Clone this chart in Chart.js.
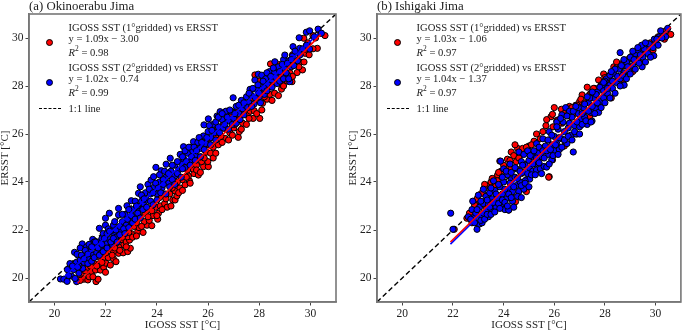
<!DOCTYPE html>
<html>
<head>
<meta charset="utf-8">
<script src="https://cdn.jsdelivr.net/npm/chart.js@4"></script>
<style>
  html, body { margin: 0; padding: 0; background: #fff; }
  #page { position: relative; width: 685px; height: 331px; overflow: hidden; font-family: "Liberation Serif", serif; color: #222; }
  canvas { position: absolute; top: 0; }
  .lg { position: absolute; font-size: 10.6px; line-height: 12px; white-space: nowrap; }
  .lg sup { font-size: 7.5px; line-height: 0; }
  .dot { position: absolute; width: 5px; height: 5px; border: 1px solid #000; border-radius: 50%; }
  .dash { position: absolute; width: 22px; height: 0; border-top: 1.4px dashed #000; }
</style>
</head>
<body>
<div id="page">
  <canvas id="left" width="345" height="331" style="left:0;width:345px;height:331px"></canvas>
  <canvas id="right" width="337" height="331" style="left:348px;width:337px;height:331px"></canvas>
</div>
<script>
const axisTicks = [20, 22, 24, 26, 28, 30];
const oneToOneX = [19, 31];
const oneToOneY = [19, 31];

const titles = ['(a) Okinoerabu Jima', '(b) Ishigaki Jima'];
const xTitle = 'IGOSS SST [°C]';
const yTitle = 'ERSST [°C]';

const okiLegend1 = ['y = 1.09x − 3.00', '0.98'];
const okiLegend2 = ['y = 1.02x − 0.74', '0.99'];
const ishiLegend1 = ['y = 1.03x − 1.06', '0.97'];
const ishiLegend2 = ['y = 1.04x − 1.37', '0.97'];

const okiRedLineX = [20.9, 30.4];
const okiRedLineY = [19.78, 30.14];
const okiBlueLineX = [20.4, 30.3];
const okiBlueLineY = [20.07, 30.17];
const ishiRedLineX = [21.9, 30.6];
const ishiRedLineY = [21.5, 30.46];
const ishiBlueLineX = [21.9, 30.5];
const ishiBlueLineY = [21.41, 30.35];

const okiRed = [
  [20.88,19.87],[21.0,20.02],[21.14,19.95],[21.3,19.92],[21.05,20.2],[21.2,20.3],[21.1,20.55],[21.3,20.45],[21.62,19.85],[21.7,19.95],
  [21.45,20.25],[21.6,20.33],[21.79,20.33],[21.55,20.6],[21.92,20.45],[21.99,20.24],[21.75,20.6],[22.0,20.62],[22.18,20.54],[21.7,20.9],
  [21.9,20.85],[22.1,20.85],[22.3,20.8],[22.4,20.68],[22.5,21.03],[22.68,21.05],[22.86,21.1],[22.96,21.24],[22.7,21.38],[22.5,21.3],
  [22.3,21.1],[22.2,21.3],[22.1,21.2],[22.4,21.45],[22.6,21.6],[22.8,21.5],[22.93,21.58],[22.86,21.72],[22.65,21.85],[22.45,21.75],
  [23.0,21.85],[23.25,21.93],[23.46,21.9],[23.3,22.1],[23.1,22.15],[23.61,22.2],[23.8,22.18],[23.5,22.35],[23.7,22.4],[24.03,22.45],
  [24.06,22.7],[23.85,22.6],[23.55,22.7],[23.3,22.6],[23.95,22.95],[24.13,23.0],[24.3,23.1],[24.4,22.95],[24.62,23.25],[24.71,23.25],
  [24.78,23.42],[24.71,23.63],[24.5,23.5],[24.3,23.45],[24.1,23.35],[24.9,23.75],[25.1,23.88],[25.27,24.05],[25.0,24.1],[24.8,24.0],
  [25.23,24.25],[25.45,24.35],[25.62,24.29],[25.4,24.55],[25.2,24.5],[25.82,24.64],[26.01,24.64],[25.99,24.85],[25.75,24.85],[25.55,24.7],
  [25.71,25.05],[25.92,25.24],[26.1,25.2],[25.5,25.0],[25.34,25.45],[25.5,25.55],[25.95,25.55],[26.2,25.45],[26.4,25.55],[26.66,25.82],
  [26.5,25.9],[26.3,25.85],[26.05,25.8],[26.7,26.2],[26.85,26.05],[27.0,26.25],[27.18,25.86],[27.22,26.1],[26.95,26.45],[26.6,26.4],
  [26.35,26.3],[27.1,26.6],[27.35,26.45],[27.54,26.82],[27.76,26.65],[28.02,26.65],[27.65,26.95],[27.8,26.97],[27.4,27.0],[27.15,27.05],
  [27.96,27.42],[28.13,27.28],[28.3,27.45],[27.75,27.5],[28.41,27.65],[28.6,27.7],[28.87,27.87],[28.2,27.8],[27.83,28.46],[28.0,28.2],
  [28.25,28.0],[28.55,28.15],[28.9,28.05],[29.1,28.2],[29.28,28.18],[29.48,28.56],[29.69,28.67],[29.2,28.55],[28.44,28.92],[28.75,28.9],
  [29.0,28.75],[29.4,28.9],[29.6,29.0],[29.3,29.3],[29.8,29.36],[29.8,29.53],[30.27,29.57],[29.74,29.99],[30.2,30.0],[30.57,30.1],
  [30.4,30.2],[28.35,28.5],[26.9,26.8],[25.75,25.7],[24.55,24.25],[23.45,23.2],[22.9,22.4],[22.3,21.85],[21.9,21.3],[21.4,20.8],
  [21.0,19.9],[21.35,20.05],[21.5,20.05],[21.25,20.65],[21.4,20.5],[21.65,20.5],[21.85,20.65],[21.85,21.0],[22.0,21.05],[22.25,20.95],
  [22.35,21.25],[22.55,21.15],[22.65,21.7],[22.8,21.3],[22.9,21.9],[23.05,21.7],[23.2,21.75],[23.2,22.3],[23.4,22.15],[23.65,22.55],
  [23.8,22.8],[24.0,22.6],[24.2,22.85],[24.35,23.3],[24.55,23.0],[24.6,23.75],[24.85,23.55],[25.0,23.65],[25.15,24.2],[25.3,23.95],
  [25.55,24.5],[25.7,24.4],[25.85,25.0],[26.2,25.0],[26.3,25.2],[26.55,25.65],[26.8,25.75],[26.95,25.95],[27.05,26.4],[27.3,26.2],
  [27.5,26.4],[27.6,26.65],[27.9,26.85],[28.1,27.0],[28.2,27.55],[28.5,27.4],[28.75,27.6],[28.95,28.0],[29.1,28.45],[29.3,28.4],
  [29.55,28.8],[29.75,29.0],[29.95,29.3],[30.1,29.55],[30.1,30.1],[29.9,29.8]
];

const okiBlue = [
  [20.23,19.96],[20.36,19.95],[20.49,19.86],[20.66,20.08],[20.86,19.85],[20.8,19.98],[20.5,20.35],[20.6,20.6],[20.75,20.35],[20.95,20.2],
  [20.78,21.07],[20.88,20.99],[20.85,20.65],[21.0,20.75],[21.1,20.4],[21.15,20.65],[21.08,21.42],[21.25,21.3],[21.0,21.25],[21.2,20.95],
  [21.35,20.8],[21.4,21.1],[21.5,20.95],[21.49,21.61],[21.35,21.4],[21.6,21.3],[21.65,21.05],[21.8,21.2],[21.7,21.5],[21.85,21.65],
  [21.75,22.07],[21.9,21.85],[21.99,22.2],[21.99,22.49],[22.14,22.7],[22.1,22.05],[22.0,21.45],[22.15,21.6],[22.25,21.4],[22.3,21.85],
  [22.3,22.2],[22.45,22.05],[22.5,22.63],[22.5,22.9],[22.4,21.7],[22.6,21.95],[22.65,22.35],[22.8,22.2],[22.83,23.01],[22.75,22.65],
  [22.95,22.45],[23.0,23.22],[23.05,22.85],[23.15,23.2],[23.1,22.55],[23.28,23.53],[23.3,22.9],[23.35,23.8],[23.4,23.2],[23.5,23.05],
  [23.55,23.55],[23.6,23.25],[23.65,23.9],[23.77,24.08],[23.75,23.5],[23.87,24.22],[23.9,23.8],[24.0,23.5],[23.96,24.61],[24.1,24.0],
  [24.17,24.47],[24.2,23.75],[24.36,24.74],[24.35,24.2],[24.45,23.95],[24.52,24.99],[24.55,24.45],[24.7,24.7],[24.7,24.25],[24.85,24.5],
  [24.91,25.15],[24.95,24.8],[25.04,25.47],[25.05,24.95],[25.1,24.6],[25.2,25.2],[25.3,24.9],[25.43,25.68],[25.4,25.3],[25.5,25.1],
  [25.6,25.65],[25.7,25.4],[25.82,25.92],[25.84,26.38],[25.9,25.6],[26.01,26.63],[26.0,26.1],[26.1,25.85],[26.2,26.4],[26.25,26.05],
  [26.35,26.75],[26.47,26.93],[26.4,26.3],[26.55,26.6],[26.6,26.25],[26.7,26.95],[26.8,26.55],[26.98,27.51],[26.9,26.95],[27.0,26.65],
  [27.1,27.15],[27.2,26.85],[27.3,27.4],[27.35,27.05],[27.5,27.55],[27.45,27.2],[27.64,27.86],[27.6,27.3],[27.7,27.6],[27.8,27.25],
  [27.83,28.25],[27.96,28.49],[27.9,27.85],[28.0,27.55],[28.1,28.45],[28.1,27.95],[28.25,28.3],[28.2,27.65],[28.35,28.05],[28.4,28.6],
  [28.5,28.25],[28.61,29.01],[28.6,28.55],[28.7,28.1],[28.75,28.8],[28.85,28.45],[28.95,29.1],[29.0,29.29],[29.0,28.7],[29.19,28.18],
  [29.1,28.45],[29.15,29.05],[29.25,28.8],[29.32,29.64],[29.3,29.25],[29.4,29.1],[29.5,29.4],[29.58,29.57],[29.56,30.01],[29.84,30.24],
  [29.97,30.3],[30.3,30.37],[29.97,29.54],[30.43,30.2],[30.15,30.05],[20.95,20.5],[21.55,21.5],[22.2,21.95],[23.25,23.0],[24.25,24.1],
  [20.55,20.1],[20.7,20.5],[20.9,20.45],[21.05,20.95],[21.15,20.8],[21.2,21.15],[21.3,20.6],[21.3,21.0],[21.45,20.7],[21.45,21.3],
  [21.55,20.85],[21.6,21.5],[21.7,21.25],[21.75,20.95],[21.85,21.4],[21.9,21.1],[21.95,21.65],[22.05,21.85],[22.05,21.25],[22.15,21.95],
  [22.2,21.5],[22.3,21.65],[22.35,22.35],[22.4,22.0],[22.45,21.5],[22.55,22.15],[22.55,21.8],[22.65,22.65],[22.7,22.05],[22.75,21.85],
  [22.85,22.45],[22.9,22.1],[22.9,22.85],[23.0,22.6],[23.05,22.3],[23.15,22.45],[23.2,23.0],[23.25,22.7],[23.35,22.5],[23.4,23.45],
  [23.45,22.85],[23.5,23.3],[23.6,22.95],[23.7,23.7],[23.75,23.2],[23.85,23.55],[23.85,23.05],[23.95,23.95],[24.0,23.25],[24.05,23.75],
  [24.1,24.3],[24.15,23.55],[24.25,23.9],[24.3,24.45],[24.35,23.5],[24.45,24.35],[24.5,23.8],[24.6,24.7],[24.6,24.1],[24.7,23.9],
  [24.8,24.85],[24.8,24.35],[24.95,24.2],[25.0,25.05],[25.0,24.55],[25.1,25.3],[25.15,24.85],[25.25,25.45],[25.3,24.7],[25.35,25.05],
  [25.45,25.45],[25.5,24.9],[25.55,25.3],[25.65,25.85],[25.7,25.05],[25.75,25.65],[25.85,25.35],[25.95,25.85],[26.05,26.35],[26.1,25.55],
  [26.15,26.15],[26.3,26.5],[26.3,25.75],[26.4,26.7],[26.45,26.05],[26.55,26.85],[26.65,26.4],[26.75,26.7],[26.8,26.2],[26.85,27.0],
  [26.95,26.4],[27.05,26.85],[27.1,26.45],[27.2,27.2],[27.25,26.6],[27.4,27.3],[27.4,26.8],[27.55,27.1],[27.6,27.7],[27.7,27.15],
  [27.75,27.9],[27.85,27.5],[27.95,28.05],[28.0,27.7],[28.05,27.3],[28.15,28.2],[28.2,27.9],[28.3,28.55],[28.3,27.8],[28.45,28.4],
  [28.5,27.95],[28.55,28.75],[28.65,28.35],[28.8,28.6],[28.8,28.2],[28.9,28.9],[28.95,28.3],[29.05,28.55],[29.1,28.95],[29.15,28.3],
  [29.25,29.1],[29.35,28.85],[29.4,29.45],[29.5,29.05],[29.6,29.3],[29.7,29.55],[29.85,29.7]
];

const ishiRed = [
  [22.05,22.03],[22.55,22.49],[22.65,22.7],[22.75,22.3],[22.9,22.95],[23.12,23.52],[23.05,23.2],[22.85,23.05],[23.3,23.0],[23.4,23.87],
  [23.25,23.75],[23.76,24.29],[23.5,24.0],[23.85,24.87],[23.75,24.05],[24.2,22.83],[24.47,23.18],[23.9,24.45],[24.1,24.6],[24.3,24.6],
  [24.5,24.85],[24.65,25.1],[24.55,25.4],[24.3,25.25],[24.45,25.55],[24.8,25.3],[25.0,25.5],[25.2,25.7],[25.67,26.35],[25.3,25.25],
  [25.8,24.22],[25.87,26.72],[25.93,26.82],[26.0,27.1],[26.13,26.58],[26.28,27.03],[26.3,26.45],[26.45,26.9],[26.6,27.15],[26.75,26.8],
  [26.85,27.2],[27.1,27.63],[27.0,27.35],[27.3,27.95],[27.2,26.95],[27.4,27.65],[27.6,27.9],[27.75,28.25],[27.95,28.5],[28.1,28.25],
  [28.05,27.6],[28.35,28.8],[28.46,29.0],[28.75,28.85],[29.0,29.15],[29.2,29.3],[29.45,29.5],[29.7,29.6],[30.0,29.95],[30.3,30.2],
  [30.6,30.15],[25.93,24.92],[25.85,25.2],[25.78,24.2],[24.9,23.6],[24.7,24.35],[24.3,23.5],[23.95,23.1],[23.6,23.1],[23.2,22.45],
  [26.4,25.5],[26.9,26.0],[27.4,26.7],[27.7,27.1],[28.25,27.5],[28.7,28.2],[29.1,28.6],[29.5,29.0],[29.9,29.5],[30.35,29.95],
  [22.7,22.45],[22.95,23.3],[23.1,22.6],[23.25,23.9],[23.35,23.45],[23.55,24.15],[23.65,23.8],[23.8,24.4],[24.0,24.7],[24.15,24.95],
  [24.25,24.9],[24.4,25.1],[24.6,25.0],[24.75,25.4],[24.9,25.45],[25.1,25.55],[25.3,26.0],[25.45,25.8],[25.55,26.1],[25.7,26.6],
  [25.95,26.3],[26.1,26.55],[26.2,26.45],[26.4,26.85],[26.55,26.8],[26.7,27.1],[26.9,27.2],[27.05,27.45],[27.2,27.3],[27.45,27.7],
  [27.55,27.9],[27.85,28.05],[28.0,28.35],[28.2,28.45],[28.45,28.75],[28.7,28.95],[28.9,29.1],[29.1,29.3],[29.35,29.5],[29.55,29.65],
  [29.8,29.8],[30.1,30.05],[30.4,30.3]
];

const ishiBlue = [
  [21.91,22.7],[22.0,22.03],[22.95,22.03],[22.78,23.2],[22.6,22.55],[22.75,22.85],[22.85,22.55],[22.95,22.3],[23.05,22.25],[23.15,22.3],
  [22.9,22.7],[23.05,22.95],[23.0,23.45],[23.15,22.6],[23.2,23.1],[23.3,22.8],[23.3,23.4],[23.4,22.55],[23.4,23.05],[23.45,23.55],
  [23.55,22.8],[23.55,23.3],[23.65,23.65],[23.7,22.95],[23.75,23.35],[23.85,23.8],[23.88,24.87],[23.9,23.05],[23.95,23.5],[24.0,24.0],
  [24.05,22.85],[24.1,23.3],[24.15,24.3],[24.2,22.83],[24.2,23.7],[24.3,24.1],[24.35,23.2],[24.35,23.6],[24.45,24.2],[24.5,23.85],
  [24.5,24.55],[24.6,23.6],[24.65,24.0],[24.75,24.4],[24.8,23.7],[24.85,24.7],[24.9,24.1],[25.03,24.12],[25.05,24.55],[25.0,24.9],
  [24.6,25.25],[24.7,24.85],[24.8,25.15],[24.95,25.3],[25.15,24.45],[25.15,25.05],[25.25,24.75],[25.3,24.5],[25.35,25.2],[25.45,24.55],
  [25.5,25.05],[25.6,24.65],[25.65,25.5],[25.7,24.62],[25.75,25.15],[25.9,24.92],[25.9,25.55],[26.0,25.3],[26.0,25.9],[26.1,25.6],
  [26.15,26.2],[26.2,25.35],[26.3,25.8],[26.35,26.5],[26.45,27.1],[26.5,25.6],[26.55,26.25],[26.65,25.95],[26.7,26.7],[26.75,25.25],
  [26.8,26.35],[26.85,26.0],[26.95,26.85],[27.0,26.3],[27.05,26.6],[27.15,27.1],[27.2,26.7],[27.3,26.4],[27.35,27.3],[27.45,26.9],
  [27.49,26.54],[27.55,27.5],[27.65,27.05],[27.7,27.75],[27.75,26.9],[27.8,27.35],[27.9,28.05],[27.95,27.5],[28.05,28.3],[28.1,27.7],
  [28.2,28.05],[28.3,27.9],[28.35,28.5],[28.45,28.15],[28.55,28.7],[28.6,29.39],[28.6,28.3],[28.73,28.04],[28.76,28.04],[28.75,28.55],
  [28.85,29.0],[28.95,28.6],[29.05,29.2],[29.1,28.85],[29.2,29.35],[29.3,29.05],[29.47,28.8],[29.45,29.5],[29.5,29.2],[29.65,29.6],
  [29.7,29.35],[29.85,29.7],[29.93,29.26],[29.95,29.95],[30.1,29.7],[30.15,30.05],[30.3,30.15],[30.48,30.4],[30.4,30.05],[30.2,30.3],
  [23.2,23.7],[23.6,24.05],[24.25,24.75],[24.0,24.55],[25.3,25.6],[25.55,25.8],[25.8,26.1],[26.1,26.5],[26.3,26.8],[26.6,26.95],
  [22.7,22.45],[22.85,22.3],[22.95,22.85],[23.1,22.4],[23.1,23.2],[23.2,22.7],[23.25,22.45],[23.35,23.25],[23.35,22.65],[23.45,22.95],
  [23.5,23.75],[23.5,22.65],[23.6,23.15],[23.65,22.75],[23.7,23.5],[23.8,23.1],[23.8,23.9],[23.85,22.9],[23.95,23.25],[23.95,24.2],
  [24.05,23.15],[24.05,23.7],[24.1,24.45],[24.15,23.0],[24.2,23.5],[24.25,23.95],[24.3,23.35],[24.3,24.4],[24.4,22.95],[24.4,23.8],
  [24.45,24.6],[24.55,23.4],[24.55,24.15],[24.65,24.45],[24.7,23.35],[24.7,23.85],[24.75,24.7],[24.85,24.05],[24.85,23.95],[24.95,24.35],
  [25.0,23.8],[25.05,25.1],[25.1,24.3],[25.15,24.75],[25.2,25.3],[25.25,24.3],[25.3,25.0],[25.4,24.8],[25.4,25.45],[25.5,24.35],
  [25.55,25.3],[25.6,25.0],[25.7,25.3],[25.75,25.75],[25.8,24.75],[25.85,25.35],[25.9,25.95],[25.95,25.1],[26.05,25.55],[26.1,26.3],
  [26.15,25.15],[26.2,25.85],[26.25,26.65],[26.3,25.45],[26.4,26.1],[26.4,25.75],[26.5,26.75],[26.55,25.9],[26.6,26.45],[26.7,25.75],
  [26.75,26.95],[26.8,26.1],[26.9,26.5],[26.95,27.1],[27.0,26.0],[27.1,26.85],[27.1,26.4],[27.2,27.25],[27.25,26.55],[27.35,26.95],
  [27.4,27.5],[27.45,26.5],[27.5,27.15],[27.6,26.85],[27.65,27.65],[27.7,27.3],[27.8,27.95],[27.85,27.1],[27.95,27.8],[28.0,28.2],
  [28.0,27.3],[28.1,27.9],[28.2,28.45],[28.2,27.5],[28.3,28.2],[28.4,27.7],[28.4,28.7],[28.5,28.4],[28.6,28.0],[28.65,28.85],
  [28.7,28.45],[28.85,28.3],[28.9,28.8],[29.0,29.2],[29.0,28.5],[29.15,29.1],[29.2,28.7],[29.3,29.5],[29.35,28.95],[29.4,29.3],
  [29.55,29.55],[29.6,29.0],[29.75,29.75],[29.8,29.2],[29.9,29.6],[30.05,29.95],[30.25,30.0],
  [28.25,28.6],[28.75,29.1],[29.1,29.45],[29.45,29.7],[29.6,29.8],[29.3,29.6],[27.3,27.55],[26.85,27.15],[27.5,27.75],[27.95,28.15]
];

function pairs(xs, ys) {
  return xs.map((x, i) => ({ x: x, y: ys[i] }));
}

// top and right spines, chart.js only gives the two axis borders
const framePlugin = {
  id: 'frame',
  afterDatasetsDraw(chart) {
    const a = chart.chartArea;
    const ctx = chart.ctx;
    ctx.save();
    ctx.strokeStyle = '#777';
    ctx.lineWidth = 1.6;
    ctx.strokeRect(a.left, a.top, a.right - a.left, a.bottom - a.top);
    ctx.restore();
  }
};

function makeChart(id, title, redPts, bluePts, redLine, blueLine, rightPad) {
  const dots = (pts, color, order) => ({
    type: 'scatter',
    data: pts.map(p => ({ x: p[0], y: p[1] })),
    backgroundColor: color,
    borderColor: '#000',
    borderWidth: 1,
    pointRadius: 3.1,
    pointHoverRadius: 3.1,
    order: order
  });
  const line = (pts, color, width, dash, order) => ({
    type: 'line',
    data: pts,
    borderColor: color,
    borderWidth: width,
    borderDash: dash,
    pointRadius: 0,
    fill: false,
    order: order
  });

  return new Chart(document.getElementById(id), {
    plugins: [framePlugin],
    data: {
      datasets: [
        line(pairs(oneToOneX, oneToOneY), '#000', 1.4, [5, 3], 5),
        dots(redPts, '#ff0000', 4),
        dots(bluePts, '#0000ff', 3),
        line(blueLine, '#0000ff', 1.6, [], 2),
        line(redLine, '#ff0000', 1.6, [], 1)
      ]
    },
    options: {
      responsive: false,
      animation: false,
      layout: { padding: { left: 0, right: rightPad, top: 0, bottom: 0 } },
      plugins: {
        legend: { display: false },
        tooltip: { enabled: false },
        title: {
          display: true,
          text: title,
          align: 'start',
          fullSize: false,
          color: '#222',
          font: { family: 'Liberation Serif', size: 12.8, weight: 'normal', lineHeight: 1 },
          padding: { top: 0, bottom: 1.2 }
        }
      },
      scales: {
        x: {
          type: 'linear',
          min: 19,
          max: 31,
          afterBuildTicks: s => { s.ticks = axisTicks.map(v => ({ value: v })); },
          afterFit: s => { s.height = 29; },
          border: { color: '#777', width: 1.6 },
          grid: { drawOnChartArea: false, color: '#444', tickLength: 3.5 },
          ticks: { color: '#222', font: { family: 'Liberation Serif', size: 11.5 }, padding: 2, maxRotation: 0 },
          title: { display: true, text: xTitle, color: '#222', font: { family: 'Liberation Serif', size: 11, lineHeight: 1 }, padding: 0 }
        },
        y: {
          type: 'linear',
          min: 19,
          max: 31,
          afterBuildTicks: s => { s.ticks = axisTicks.map(v => ({ value: v })); },
          afterFit: s => { s.width = 29; },
          border: { color: '#777', width: 1.6 },
          grid: { drawOnChartArea: false, color: '#444', tickLength: 3.5 },
          ticks: { color: '#222', font: { family: 'Liberation Serif', size: 11.5 }, padding: 2 },
          title: { display: true, text: yTitle, color: '#222', font: { family: 'Liberation Serif', size: 11, lineHeight: 1 }, padding: 0 }
        }
      }
    }
  });
}

function addText(x, y, html) {
  const el = document.createElement('div');
  el.className = 'lg';
  el.style.left = x + 'px';
  el.style.top = (y - 6) + 'px';
  el.innerHTML = html;
  document.getElementById('page').appendChild(el);
}

function addLegend(dx, first, second) {
  const dotAt = (x, y, color) => {
    const el = document.createElement('div');
    el.className = 'dot';
    el.style.left = (x - 3.5) + 'px';
    el.style.top = (y - 3.5) + 'px';
    el.style.background = color;
    document.getElementById('page').appendChild(el);
  };
  dotAt(49 + dx, 42, '#ff0000');
  dotAt(49 + dx, 82.3, '#0000ff');
  addText(68.5 + dx, 27.7, 'IGOSS SST (1°gridded) vs ERSST');
  addText(68.5 + dx, 39, first[0]);
  addText(68.5 + dx, 52.5, '<i>R</i><sup>2</sup> = ' + first[1]);
  addText(68.5 + dx, 68, 'IGOSS SST (2°gridded) vs ERSST');
  addText(68.5 + dx, 79, second[0]);
  addText(68.5 + dx, 93, '<i>R</i><sup>2</sup> = ' + second[1]);
  addText(68.5 + dx, 108.5, '1:1 line');
  const d = document.createElement('div');
  d.className = 'dash';
  d.style.left = (38.5 + dx) + 'px';
  d.style.top = '108px';
  document.getElementById('page').appendChild(d);
}

makeChart('left', titles[0], okiRed, okiBlue, pairs(okiRedLineX, okiRedLineY), pairs(okiBlueLineX, okiBlueLineY), 9);
makeChart('right', titles[1], ishiRed, ishiBlue, pairs(ishiRedLineX, ishiRedLineY), pairs(ishiBlueLineX, ishiBlueLineY), 1);
addLegend(0, okiLegend1, okiLegend2);
addLegend(348, ishiLegend1, ishiLegend2);
</script>
</body>
</html>
